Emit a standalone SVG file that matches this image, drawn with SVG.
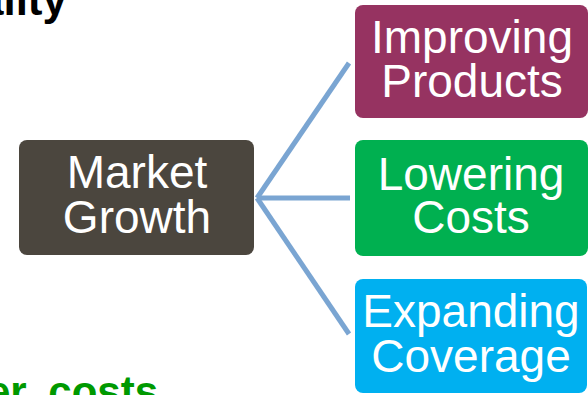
<svg xmlns="http://www.w3.org/2000/svg" width="588" height="395" viewBox="0 0 588 395">
<style>
.box text{font-family:"Liberation Sans",Arial,sans-serif;font-size:46px;fill:#ffffff;text-anchor:middle}
.conn line{stroke:#7aa5d2;stroke-width:5;stroke-linecap:butt}
</style>
<rect width="588" height="395" fill="#ffffff"/>
<text x="67" y="15" font-family="'Liberation Sans',Arial,sans-serif" font-weight="bold" font-size="44" fill="#000000" text-anchor="end">Quality</text>
<text x="158" y="406" font-family="'Liberation Sans',Arial,sans-serif" font-weight="bold" font-size="42" fill="#009900" text-anchor="end" word-spacing="10">er costs</text>
<g id="connectors" class="conn">
<line x1="257" y1="198" x2="349" y2="63"/>
<line x1="257" y1="198" x2="350" y2="198"/>
<line x1="257" y1="198" x2="349" y2="334"/>
</g>
<g id="market-growth" class="box">
<rect x="19" y="140" width="235" height="115" rx="8" fill="#4b463e"/>
<text x="137" y="188">Market</text>
<text x="137" y="233">Growth</text>
</g>
<g id="improving-products" class="box">
<rect x="355" y="5" width="233" height="113" rx="8" fill="#963361"/>
<text x="472" y="53">Improving</text>
<text x="472" y="97">Products</text>
</g>
<g id="lowering-costs" class="box">
<rect x="355" y="140" width="233" height="116" rx="8" fill="#00b050"/>
<text x="471" y="190">Lowering</text>
<text x="471" y="233">Costs</text>
</g>
<g id="expanding-coverage" class="box">
<rect x="355" y="279" width="232" height="114" rx="8" fill="#00b0f0"/>
<text x="471" y="327">Expanding</text>
<text x="471" y="372">Coverage</text>
</g>
</svg>
